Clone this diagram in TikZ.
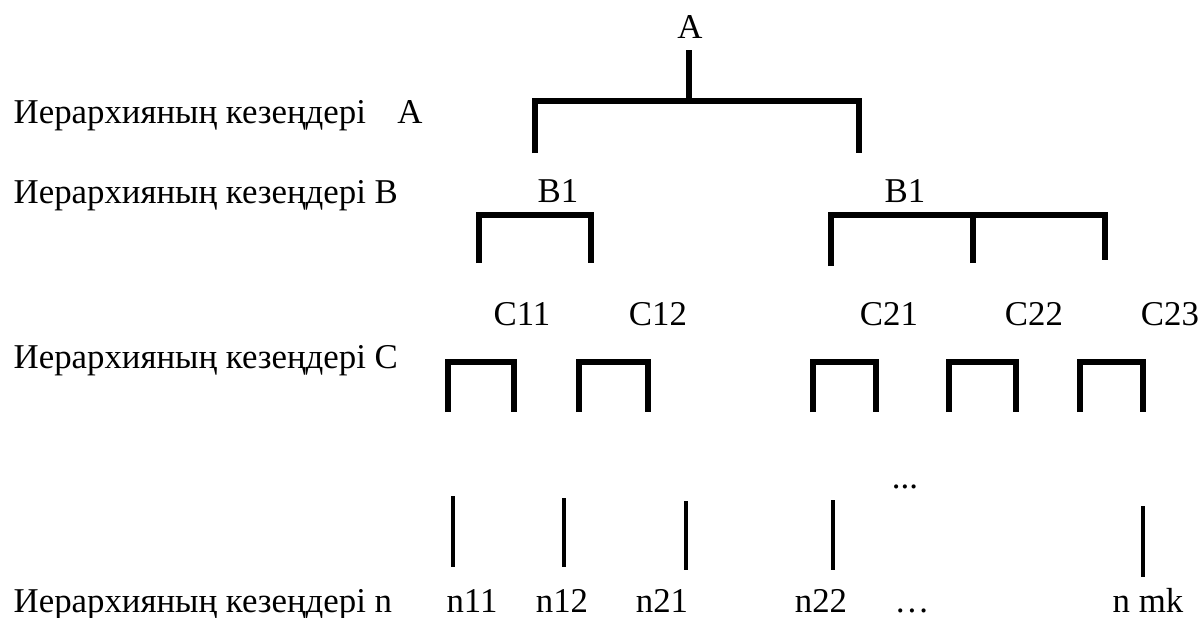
\documentclass[tikz,border=0pt]{standalone}
\usepackage{fontspec}
\setmainfont{Liberation Serif}
\usepackage{tikz}
\tikzset{
  every picture/.style = {
    x = 0.01cm,
    y = -0.01cm,
  }
  ,
  bar/.style = {
    draw,
    line width = 1.5pt
  }
  , % the heavy bracket under A
  bar-top/.style = {
    draw,
    line width = 1.8pt
  }
  , % single strokes above the n level
  stroke/.style = {
    draw,
    line width = 1.2pt
  }
  , % captions of the levels
  label-level/.style = {
    anchor = base west,
    inner sep = 0pt,
    font = \fontsize{9.9}{12}\selectfont
  }
  , % names of the elements
  label-elem/.style = {
    anchor = base,
    inner sep = 0pt,
    font = \fontsize{9.9}{12}\selectfont
  }
}

\begin{document}
\begin{tikzpicture}
  \useasboundingbox (0,0) rectangle (1200,617);
  \node[label-level] at (13,123) (lvl-a) {Иерархияның кезеңдері\hspace{0.9em}A};
  \node[label-level] at (13,203) (lvl-b) {Иерархияның кезеңдері B};
  \node[label-level] at (13,368) (lvl-c) {Иерархияның кезеңдері C};
  \node[label-level] at (13,612) (lvl-n) {Иерархияның кезеңдері n};
  % level A
  \node[label-elem] at (690,38) (a) {A};
  \coordinate (a-stem) at (689,50);
  \coordinate (a-join) at (689,101);
  \coordinate (a-left) at (535,153);
  \coordinate (a-right) at (859,153);
  \draw[bar-top] (a-stem) -- (a-join);
  \draw[bar-top] (a-left) |- (a-join) -| (a-right);
  % level B
  \node[label-elem] at (558,202) (b1) {B1};
  \node[label-elem] at (905,202) (b2) {B1};
  \coordinate (b1-left) at (479,263);
  \coordinate (b1-top) at (591,215);
  \coordinate (b1-right) at (591,263);
  \draw[bar] (b1-left) |- (b1-top) -- (b1-right);
  \coordinate (b2-left) at (831,266);
  \coordinate (b2-mid) at (973,263);
  \coordinate (b2-top) at (1105,215);
  \coordinate (b2-right) at (1105,260);
  \draw[bar] (b2-left) |- (b2-top) -- (b2-right);
  \draw[bar] (b2-mid) -- (b2-mid |- b2-top);
  % level C
  \foreach \x/\t in {522/C11, 658/C12, 889/C21, 1034/C22, 1170/C23}
    \node[label-elem] at (\x,325) (\t) {\t};
  \foreach \l/\r in {448/514, 579/648, 813/876, 949/1016, 1080/1143} {
    \coordinate (cl-\l) at (\l,412);
    \coordinate (cr-\l) at (\r,412);
    \draw[bar] (cl-\l) -- ++(0,-50) -| (cr-\l);
  }
  % level n
  \node[label-elem] at (905,488) (dots-up) {...};
  \foreach \x/\t/\b in {453/496/567, 564/498/567, 686/501/570, 833/500/570, 1143/506/577} {
    \coordinate (nt-\x) at (\x,\t);
    \coordinate (nb-\x) at (\x,\b);
    \draw[stroke] (nt-\x) -- (nb-\x);
  }
  \node[label-elem] at (472,612) (n11) {n11};
  \node[label-elem] at (562,612) (n12) {n12};
  \node[label-elem] at (662,612) (n21) {n21};
  \node[label-elem] at (821,612) (n22) {n22};
  \node[label-elem] at (912,612) (dots-down) {…};
  \node[label-elem] at (1148,612) (nmk) {n mk};
\end{tikzpicture}
\end{document}
